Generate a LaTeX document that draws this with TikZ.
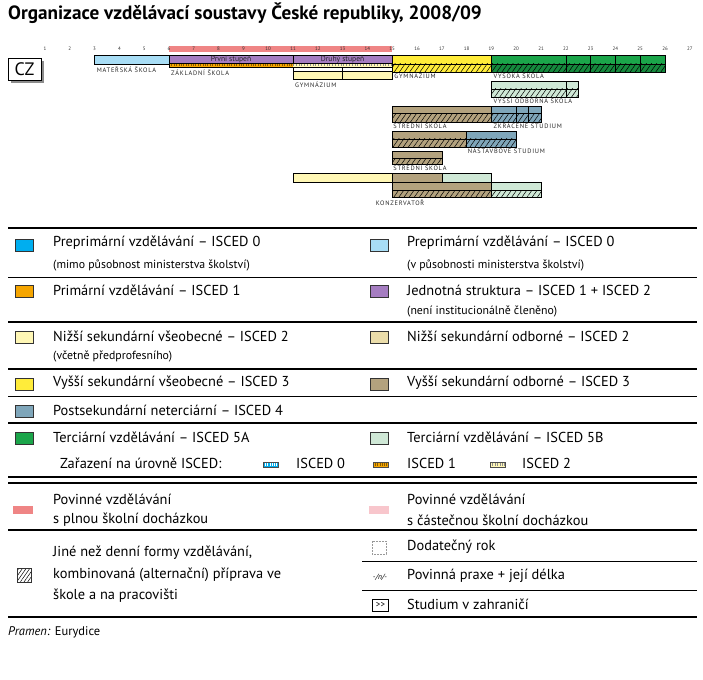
\documentclass[tikz,border=0pt]{standalone}
\usepackage{fontspec}
\setmainfont{PT Sans}
\newfontfamily\lblfont[LetterSpace=12]{PT Sans}
\usetikzlibrary{patterns.meta}

\definecolor{predmimo}{HTML}{00AEEF}
\definecolor{predv}{HTML}{A8DDF5}
\definecolor{prim}{HTML}{F5A500}
\definecolor{jedn}{HTML}{A57DC1}
\definecolor{nizvs}{HTML}{FFF7B5}
\definecolor{nizod}{HTML}{EBDDAA}
\definecolor{vysvs}{HTML}{FFEC3A}
\definecolor{vysod}{HTML}{B3A27E}
\definecolor{postsek}{HTML}{7FA6BA}
\definecolor{terA}{HTML}{1BA54A}
\definecolor{terAh}{HTML}{15893D}
\definecolor{terB}{HTML}{CFE8D6}
\definecolor{povpl}{HTML}{EF8585}
\definecolor{povcas}{HTML}{F8C6CC}

% bunka: od roku, do roku, horni y, dolni y, barva
\newcommand{\bunka}[5]{\draw[box, fill=#5] ({ax(#1)},#3) rectangle ({ax(#2)},#4);}
\newcommand{\sbunka}[5]{\draw[box, fill=#5, srafa] ({ax(#1)},#3) rectangle ({ax(#2)},#4);}

\begin{document}
\begin{tikzpicture}[x=1pt,y=-1pt,
  declare function={ax(\a)=45+(\a-1)*24.8;},
  box/.style={draw=black, line width=0.6pt},
  srafa/.style={postaction={pattern={Lines[angle=55,distance=4.2pt,line width=0.5pt]}}},
  rok/.style={font=\fontsize{5}{5}\selectfont, text=black!80, inner sep=0},
  popis/.style={font=\lblfont\fontsize{6.4}{7}\selectfont, text=black!85, inner sep=0, anchor=west},
  leg/.style={font=\fontsize{14.4}{16}\selectfont, anchor=west, inner sep=0},
  pozn/.style={font=\fontsize{11.8}{13}\selectfont, anchor=west, inner sep=0},
  ctvr/.style={draw=black!80, line width=0.6pt},
  tlusta/.style={line width=2.2pt},
  tenka/.style={line width=0.8pt}]
  \useasboundingbox (0,0) rectangle (703,679);

  % nadpis
  \node[anchor=west, inner sep=0, font=\bfseries\fontsize{19.2}{22}\selectfont] (nadpis) at (8,13)
    {Organizace vzdělávací soustavy České republiky, 2008/09};

  % CZ
  \fill[black!45] (11,61) rectangle (44,83);
  \node[draw=black, line width=0.8pt, fill=white, minimum width=33pt, minimum height=22pt, inner sep=0,
    font=\fontsize{18}{18}\selectfont] (cz) at (24.5,69) {CZ};

  % povinna dochazka a osa let
  \fill[povpl] ({ax(6)},46) rectangle ({ax(15)},52);
  \foreach \a in {1,...,27}
    \node[rok] (r\a) at ({ax(\a)},49) {\a};

  % materska skola, zakladni skola
  \bunka{3}{6}{55}{64}{predv}
  \bunka{6}{11}{55}{63}{jedn}
  \bunka{11}{15}{55}{63}{jedn}
  \node[font=\fontsize{7.6}{8}\selectfont, text=black!85, inner sep=0] (prvni) at ({(ax(6)+ax(11))/2},59) {První stupeň};
  \node[font=\fontsize{7.6}{8}\selectfont, text=black!85, inner sep=0] (druhy) at ({(ax(11)+ax(15))/2},59) {Druhý stupeň};
  \fill[prim] ({ax(6)},63) rectangle ({ax(11)},67);
  \draw[prim!55!black, line width=3pt, dash pattern=on 0.5pt off 1.9pt] ({ax(6)},65) -- ({ax(11)},65);
  \fill[nizvs] ({ax(11)},63) rectangle ({ax(15)},67);
  \draw[black!45, line width=3pt, dash pattern=on 0.4pt off 2.4pt] ({ax(11)},65) -- ({ax(15)},65);
  \draw[box] ({ax(6)},63) rectangle ({ax(15)},67);

  % gymnazium
  \bunka{11}{13}{67}{71.5}{white}
  \bunka{13}{15}{67}{71.5}{white}
  \bunka{11}{13}{71.5}{79.5}{nizvs}
  \bunka{13}{15}{71.5}{79.5}{nizvs}
  \bunka{15}{19}{55}{64}{vysvs}
  \sbunka{15}{19}{64}{72}{vysvs}

  % vysoka skola
  \foreach \a/\b in {19/22, 22/23, 23/24, 24/25, 25/26} {
    \bunka{\a}{\b}{55}{64}{terA}
    \sbunka{\a}{\b}{64}{72}{terAh}
  }

  % vyssi odborna skola
  \bunka{19}{22}{81}{89}{terB}
  \bunka{22}{22.5}{81}{89}{terB}
  \sbunka{19}{22}{89}{97}{terB}
  \sbunka{22}{22.5}{89}{97}{terB}

  % stredni skola + zkracene studium
  \bunka{15}{19}{106}{113.5}{vysod}
  \sbunka{15}{19}{113.5}{122}{vysod}
  \foreach \a/\b in {19/20, 20/20.5, 20.5/21} {
    \bunka{\a}{\b}{106}{113.5}{postsek}
    \sbunka{\a}{\b}{113.5}{122}{postsek}
  }

  % stredni skola + nastavbove studium
  \bunka{15}{18}{131}{139}{vysod}
  \sbunka{15}{18}{139}{147.5}{vysod}
  \bunka{18}{20}{131}{139}{postsek}
  \sbunka{18}{20}{139}{147.5}{postsek}

  % stredni skola (kratsi)
  \bunka{15}{17}{151.5}{158.5}{vysod}
  \sbunka{15}{17}{158.5}{164.5}{vysod}

  % konzervator
  \bunka{11}{15}{173.5}{182}{nizvs}
  \bunka{15}{17}{173.5}{182}{vysod}
  \bunka{17}{19}{173.5}{182}{terB}
  \bunka{15}{19}{182}{190}{vysod}
  \bunka{19}{21}{182}{190}{terB}
  \sbunka{15}{19}{190}{197.5}{vysod}
  \sbunka{19}{21}{190}{197.5}{terB}

  % popisky
  \node[popis] (ms) at ({ax(3)+2},70) {MATEŘSKÁ ŠKOLA};
  \node[popis] (zs) at ({ax(6)+2},73) {ZÁKLADNÍ ŠKOLA};
  \node[popis] (gym8) at ({ax(11)+2},84.5) {GYMNÁZIUM};
  \node[popis] (gym4) at ({ax(15)+2},76) {GYMNÁZIUM};
  \node[popis] (vs) at ({ax(19)+2},76) {VYSOKÁ ŠKOLA};
  \node[popis] (vos) at ({ax(19)+2},101) {VYŠŠÍ ODBORNÁ ŠKOLA};
  \node[popis] (ss1) at ({ax(15)+1},125.5) {STŘEDNÍ ŠKOLA};
  \node[popis] (zkr) at ({ax(19)+2},125.5) {ZKRÁCENÉ STUDIUM};
  \node[popis] (nast) at ({ax(18)+1},151) {NÁSTAVBOVÉ STUDIUM};
  \node[popis] (ss2) at ({ax(15)+1},168) {STŘEDNÍ ŠKOLA};
  \node[popis, anchor=center] (konz) at (400,202.5) {KONZERVATOŘ};

  % legenda - linky
  \draw[tlusta] (8,228) -- (697,228);
  \draw[tenka] (8,277) -- (697,277);
  \draw[tlusta] (8,322) -- (697,322);
  \draw[tlusta] (8,369) -- (697,369);
  \draw[tenka] (8,396) -- (697,396);
  \draw[tlusta] (8,423) -- (697,423);
  \draw[tlusta] (8,477) -- (697,477);
  \draw[line width=1.2pt] (8,483) -- (697,483);
  \draw[tlusta] (8,530) -- (697,530);
  \draw[tenka] (362,561) -- (697,561);
  \draw[tenka] (362,590) -- (697,590);
  \draw[tlusta] (8,617) -- (697,617);

  % legenda - ctverecky
  \draw[ctvr, fill=predmimo] (15,239) rectangle (33,251);
  \draw[ctvr, fill=predv] (370,239) rectangle (388,251);
  \draw[ctvr, fill=prim] (15,285) rectangle (33,297);
  \draw[ctvr, fill=jedn] (370,285) rectangle (388,297);
  \draw[ctvr, fill=nizvs] (15,331) rectangle (33,343);
  \draw[ctvr, fill=nizod] (370,331) rectangle (388,343);
  \draw[ctvr, fill=vysvs] (15,378) rectangle (33,390);
  \draw[ctvr, fill=vysod] (370,378) rectangle (388,390);
  \draw[ctvr, fill=postsek] (15,405) rectangle (33,417);
  \draw[ctvr, fill=terA] (15,432) rectangle (33,444);
  \draw[ctvr, fill=terB] (370,432) rectangle (388,444);

  % legenda - texty
  \node[leg] (l0a) at (53,243) {Preprimární vzdělávání – ISCED 0};
  \node[pozn] (l0ap) at (53,265) {(mimo působnost ministerstva školství)};
  \node[leg] (l0b) at (407,243) {Preprimární vzdělávání – ISCED 0};
  \node[pozn] (l0bp) at (407,265) {(v působnosti ministerstva školství)};
  \node[leg] (l1) at (53,290) {Primární vzdělávání – ISCED 1};
  \node[leg] (l12) at (407,290) {Jednotná struktura – ISCED 1 + ISCED 2};
  \node[pozn] (l12p) at (407,311) {(není institucionálně členěno)};
  \node[leg] (l2v) at (53,336) {Nižší sekundární všeobecné – ISCED 2};
  \node[pozn] (l2vp) at (53,356) {(včetně předprofesního)};
  \node[leg] (l2o) at (407,336) {Nižší sekundární odborné – ISCED 2};
  \node[leg] (l3v) at (53,383) {Vyšší sekundární všeobecné – ISCED 3};
  \node[leg] (l3o) at (407,383) {Vyšší sekundární odborné – ISCED 3};
  \node[leg] (l4) at (53,410) {Postsekundární neterciární – ISCED 4};
  \node[leg] (l5a) at (53,437) {Terciární vzdělávání – ISCED 5A};
  \node[leg] (l5b) at (407,437) {Terciární vzdělávání – ISCED 5B};

  % zarazeni na urovne ISCED
  \node[leg] (zar) at (60,463) {Zařazení na úrovně ISCED:};
  \fill[predmimo] (263,462) rectangle (278,467);
  \draw[white, line width=3pt, dash pattern=on 0.6pt off 1.6pt] (263,464.5) -- (278,464.5);
  \draw[black!70, line width=0.4pt] (263,462) rectangle (278,467);
  \node[leg] (z0) at (296,463) {ISCED 0};
  \fill[prim] (373,462) rectangle (388,467);
  \draw[prim!55!black, line width=3pt, dash pattern=on 0.6pt off 1.6pt] (373,464.5) -- (388,464.5);
  \draw[black!70, line width=0.4pt] (373,462) rectangle (388,467);
  \node[leg] (z1) at (407,463) {ISCED 1};
  \fill[nizvs] (490,462) rectangle (505,467);
  \draw[black!45, line width=3pt, dash pattern=on 0.4pt off 2pt] (490,464.5) -- (505,464.5);
  \draw[black!70, line width=0.4pt] (490,462) rectangle (505,467);
  \node[leg] (z2) at (522,463) {ISCED 2};

  % povinne vzdelavani
  \fill[povpl] (13,506) rectangle (33,514);
  \node[leg] (pov1) at (53,499) {Povinné vzdělávání};
  \node[leg] (pov1b) at (53,520) {s plnou školní docházkou};
  \fill[povcas] (369,506) rectangle (389,514);
  \node[leg] (pov2) at (407,499) {Povinné vzdělávání};
  \node[leg] (pov2b) at (407,520) {s částečnou školní docházkou};

  % jine formy, dodatecny rok, praxe, zahranici
  \draw[ctvr, pattern={Lines[angle=55,distance=3pt,line width=0.5pt]}] (17,568) rectangle (31,582);
  \node[leg] (jine1) at (53,553) {Jiné než denní formy vzdělávání,};
  \node[leg] (jine2) at (53,575) {kombinovaná (alternační) příprava ve};
  \node[leg] (jine3) at (53,596) {škole a na pracovišti};
  \draw[black!40, line width=0.6pt, dash pattern=on 1.6pt off 1.4pt] (372,541) rectangle (386,554);
  \node[leg] (dod) at (407,547) {Dodatečný rok};
  \node[font=\itshape\fontsize{7.5}{8}\selectfont, inner sep=0] (praxe0) at (380,577) {-/n/-};
  \node[leg] (praxe) at (407,576) {Povinná praxe + její délka};
  \node[draw=black, line width=0.6pt, minimum width=16pt, minimum height=12pt, inner sep=0,
    font=\fontsize{9}{9}\selectfont] (zahr0) at (380.5,605) {>{}>};
  \node[leg] (zahr) at (407,604) {Studium v zahraničí};

  % zdroj
  \node[leg, font=\fontsize{12.5}{14}\selectfont] (zdroj) at (8,632) {\textit{Pramen:} Eurydice};
\end{tikzpicture}
\end{document}
